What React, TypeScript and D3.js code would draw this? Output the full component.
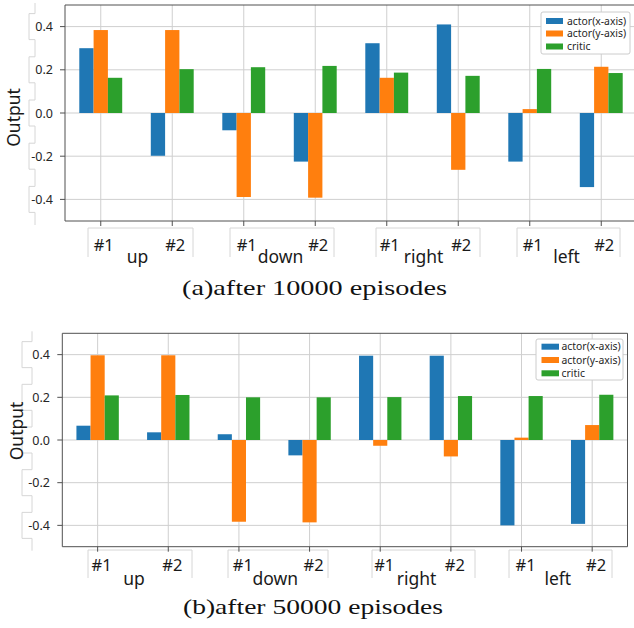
import React from "react";
import * as d3 from "d3";

const groups = ["up", "down", "right", "left"];
const subTicks = ["#1", "#2", "#1", "#2", "#1", "#2", "#1", "#2"];
const seriesNames = ["actor(x-axis)", "actor(y-axis)", "critic"];
const seriesColors = ["#1f77b4", "#ff7f0e", "#2ca02c"];
const yTicks = [-0.4, -0.2, 0.0, 0.2, 0.4];

// (a) after 10000 episodes
const actorXA = [0.30, -0.198, -0.08, -0.225, 0.323, 0.41, -0.225, -0.343];
const actorYA = [0.384, 0.384, -0.389, -0.392, 0.163, -0.263, 0.018, 0.214];
const criticA = [0.163, 0.203, 0.212, 0.218, 0.187, 0.172, 0.204, 0.185];

// (b) after 50000 episodes
const actorXB = [0.067, 0.036, 0.027, -0.072, 0.395, 0.395, -0.40, -0.393];
const actorYB = [0.397, 0.397, -0.383, -0.386, -0.027, -0.077, 0.011, 0.07];
const criticB = [0.209, 0.211, 0.2, 0.2, 0.201, 0.206, 0.206, 0.212];

const captionA = "(a)after 10000 episodes";
const captionB = "(b)after 50000 episodes";

type PanelCfg = {
  left: number; right: number; top: number; bottom: number;
  series: number[][];
  legend: { x: number; y: number; w: number; h: number; px: number; pw: number; tx: number; rows: number[] };
  tickLabelRight: number;
  subBaseline: number; groupBaseline: number;
  ylabelX: number; ylabelY: number;
  ghostY: [number, number]; ghostXs: [number, number][];
  ghostStep: [number, number];
  caption: string; capY: number; capX0: number; capX1: number;
  tickOffset: number;
};

const font = "'Noto Sans', 'Open Sans', sans-serif";

function Panel({ c }: { c: PanelCfg }) {
  const idx = d3.range(subTicks.length);
  const x = d3.scaleBand<number>().domain(idx).range([c.left, c.right]).padding(0);
  const bw = x.bandwidth();
  const xs = d3.scaleBand<number>().domain([0, 1, 2]).range([bw * 0.2, bw * 0.8]).padding(0);
  const y = d3.scaleLinear().domain([-0.5, 0.5]).range([c.bottom, c.top]);
  const gridC = "#cfcfcf";
  const ghost = "#d6d6d6";
  const spine = "#505050";

  // stepped ghost outline by y tick labels
  let gp = `M${c.ghostStep[1]},${c.top - 2}`;
  yTicks.slice().reverse().forEach((t) => {
    const yy = y(t);
    gp += ` V${yy - 13} H${c.ghostStep[0]} V${yy + 13} H${c.ghostStep[1]}`;
  });
  gp += ` V${c.bottom + 4}`;

  return (
    <g>
      {/* ghost artifacts */}
      <path d={gp} fill="none" stroke={ghost} strokeWidth={1} />
      {c.ghostXs.map(([a, b], i) => (
        <path key={"gx" + i} d={`M${a},${c.ghostY[1]} V${c.ghostY[0]} H${b} V${c.ghostY[1]}`} fill="none" stroke={ghost} strokeWidth={1} />
      ))}
      {/* grid */}
      {yTicks.map((t) => (
        <line key={"gy" + t} x1={c.left} x2={c.right} y1={y(t)} y2={y(t)} stroke={gridC} strokeWidth={1} />
      ))}
      {idx.map((i) => {
        const cx = (x(i) as number) + bw / 2;
        return <line key={"gxl" + i} x1={cx} x2={cx} y1={c.top} y2={c.bottom} stroke={gridC} strokeWidth={1} />;
      })}
      {/* bars */}
      {c.series.map((vals, s) =>
        vals.map((v, i) => {
          const bx = (x(i) as number) + (xs(s) as number);
          const y0 = y(0);
          const yv = y(v);
          return (
            <rect key={`b${s}-${i}`} x={bx} width={xs.bandwidth()} y={Math.min(y0, yv)} height={Math.abs(yv - y0)} fill={seriesColors[s]} />
          );
        })
      )}
      {/* spines */}
      <line x1={c.left} x2={c.left} y1={c.top} y2={c.bottom} stroke={spine} strokeWidth={1} />
      <line x1={c.left} x2={c.right} y1={c.top} y2={c.top} stroke={spine} strokeWidth={1} />
      <line x1={c.left} x2={c.right} y1={c.bottom} y2={c.bottom} stroke={spine} strokeWidth={1} />
      <line x1={c.right} x2={c.right} y1={c.top} y2={c.bottom} stroke={spine} strokeWidth={1} />
      {/* y ticks */}
      {yTicks.map((t) => (
        <g key={"yt" + t}>
          <line x1={c.left - 5} x2={c.left} y1={y(t)} y2={y(t)} stroke={spine} />
          <text x={c.tickLabelRight} y={y(t)} dy="0.36em" textAnchor="end" fontFamily={font} fontSize={12.5} fill="#262626">
            {t.toFixed(1)}
          </text>
        </g>
      ))}
      {/* x ticks */}
      {idx.map((i) => {
        const cx = (x(i) as number) + bw / 2;
        return (
          <g key={"xt" + i}>
            <line x1={cx} x2={cx} y1={c.bottom} y2={c.bottom + 5} stroke={spine} />
            <text x={cx + c.tickOffset} y={c.subBaseline} textAnchor="middle" fontFamily={font} fontSize={16.5} fill="#1a1a1a">
              {subTicks[i]}
            </text>
          </g>
        );
      })}
      {groups.map((g, gi) => {
        const cx = ((x(gi * 2) as number) + bw / 2 + (x(gi * 2 + 1) as number) + bw / 2) / 2 + 1;
        return (
          <text key={"g" + g} x={cx} y={c.groupBaseline} textAnchor="middle" fontFamily={font} fontSize={17.5} fill="#1a1a1a">
            {g}
          </text>
        );
      })}
      {/* y label */}
      <text transform={`translate(${c.ylabelX},${c.ylabelY}) rotate(-90)`} textAnchor="middle" fontFamily={font} fontSize={17.5} fill="#1a1a1a">
        Output
      </text>
      {/* legend */}
      <rect x={c.legend.x} y={c.legend.y} width={c.legend.w} height={c.legend.h} fill="#fff" stroke="#cccccc" rx={2} />
      {seriesNames.map((n, s) => (
        <g key={"lg" + s}>
          <rect x={c.legend.px} y={c.legend.rows[s] - 3} width={c.legend.pw} height={6} fill={seriesColors[s]} />
          <text x={c.legend.tx} y={c.legend.rows[s]} dy="0.35em" fontFamily={font} fontSize={10.4} fill="#262626">
            {n}
          </text>
        </g>
      ))}
      {/* caption */}
      <text x={(c.capX0 + c.capX1) / 2} y={c.capY} textAnchor="middle" fontFamily="'Liberation Serif', 'DejaVu Serif', serif" fontSize={22} fill="#111" textLength={c.capX1 - c.capX0} lengthAdjust="spacingAndGlyphs">
        {c.caption}
      </text>
    </g>
  );
}

const panelA: PanelCfg = {
  left: 65, right: 637, top: 5, bottom: 221,
  series: [actorXA, actorYA, criticA],
  legend: { x: 541, y: 12, w: 89, h: 42, px: 546, pw: 17, tx: 567, rows: [21, 33.5, 46.5] },
  tickLabelRight: 53,
  subBaseline: 250.5, groupBaseline: 263,
  ylabelX: 20, ylabelY: 117.5,
  ghostY: [228, 257], ghostXs: [[88, 193], [230, 334], [376, 480], [517, 620]],
  ghostStep: [29, 35],
  caption: captionA, capY: 294.5, capX0: 182, capX1: 447,
  tickOffset: 3,
};

const panelB: PanelCfg = {
  left: 62.3, right: 627.5, top: 333.3, bottom: 546.7,
  series: [actorXB, actorYB, criticB],
  legend: { x: 536, y: 339, w: 87, h: 41, px: 541.5, pw: 17.5, tx: 561.5, rows: [346.7, 360, 373.3] },
  tickLabelRight: 50,
  subBaseline: 570.5, groupBaseline: 585,
  ylabelX: 23, ylabelY: 431,
  ghostY: [550, 578], ghostXs: [[88, 192], [228, 328], [372, 475], [509, 612]],
  ghostStep: [22, 32],
  caption: captionB, capY: 614, capX0: 183, capX1: 443,
  tickOffset: 4,
};

export default function App() {
  return (
    <svg width={634} height={628} style={{ position: "absolute", left: 0, top: 0, background: "#fff" }}>
      <rect width={634} height={628} fill="#fff" />
      <Panel c={panelA} />
      <Panel c={panelB} />
    </svg>
  );
}
